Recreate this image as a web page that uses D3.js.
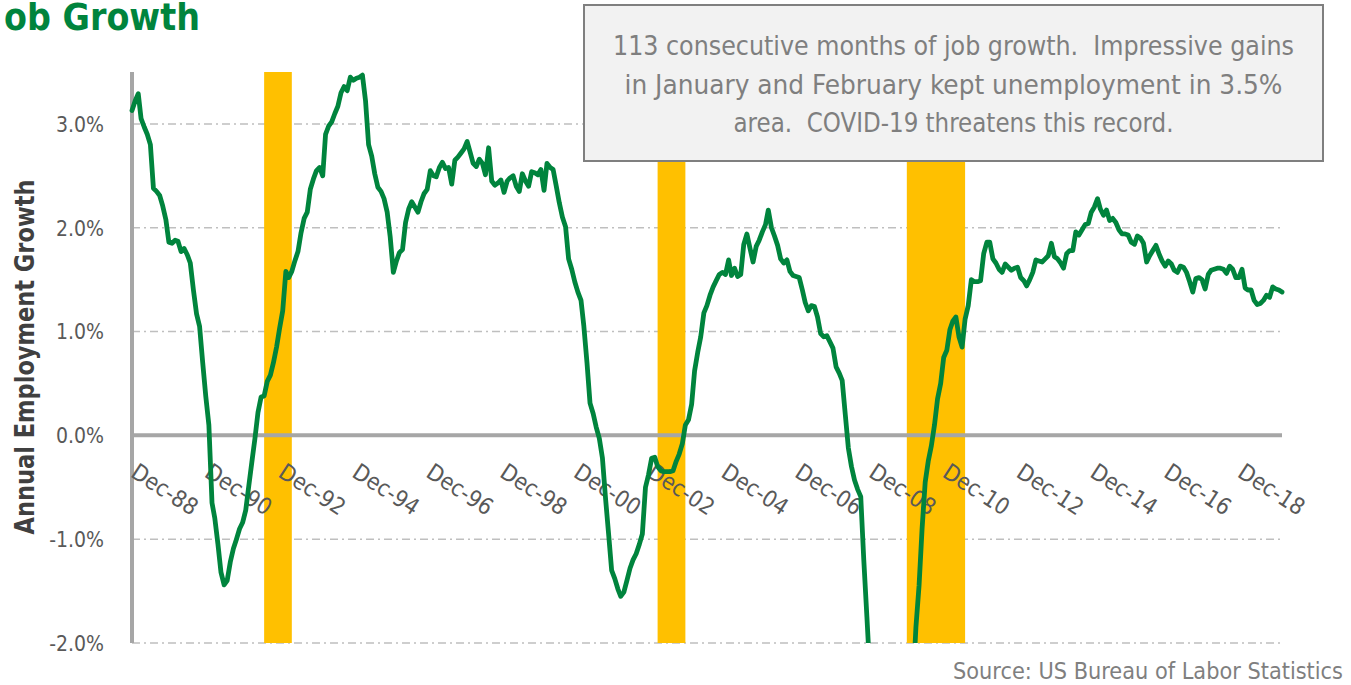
<!DOCTYPE html>
<html><head><meta charset="utf-8">
<script src="https://cdn.jsdelivr.net/npm/d3@7"></script>
<style>
html,body{margin:0;padding:0;background:#fff;}
svg{display:block;}
</style></head>
<body><svg id="chart" width="1351" height="685"></svg>
<script>
// ---------- data ----------
const firstMonth = "1988-12";
const lastMonth = "2020-02";
// Annual employment growth (%), monthly, Dec-1988 .. Feb-2020
const growth = [
 3.13,3.22,3.29,3.05,2.97,2.90,2.80,2.38,2.35,2.31,2.21,2.08,
 1.86,1.85,1.88,1.87,1.77,1.80,1.74,1.66,1.40,1.17,1.05,0.70,
 0.38,0.10,-0.65,-0.80,-1.05,-1.32,-1.44,-1.40,-1.22,-1.09,-1.00,-0.90,
 -0.84,-0.72,-0.48,-0.26,-0.03,0.22,0.37,0.38,0.52,0.58,0.70,0.85,
 1.03,1.20,1.58,1.52,1.58,1.68,1.77,1.95,2.09,2.15,2.37,2.47,
 2.55,2.58,2.50,2.90,2.98,3.02,3.10,3.17,3.30,3.36,3.32,3.45,
 3.42,3.44,3.45,3.47,3.22,2.80,2.69,2.52,2.39,2.35,2.28,2.15,
 1.91,1.57,1.68,1.76,1.79,2.05,2.18,2.25,2.20,2.15,2.25,2.33,
 2.37,2.55,2.50,2.49,2.58,2.63,2.57,2.58,2.42,2.65,2.68,2.72,
 2.76,2.83,2.72,2.62,2.59,2.66,2.62,2.51,2.77,2.45,2.41,2.43,
 2.46,2.34,2.45,2.48,2.50,2.40,2.35,2.52,2.45,2.40,2.54,2.53,
 2.51,2.56,2.36,2.62,2.58,2.56,2.40,2.24,2.10,2.01,1.70,1.60,
 1.48,1.38,1.30,1.05,0.70,0.31,0.21,0.08,-0.03,-0.22,-0.60,-0.95,
 -1.30,-1.38,-1.48,-1.55,-1.51,-1.40,-1.28,-1.20,-1.14,-1.05,-0.95,-0.50,
 -0.38,-0.22,-0.21,-0.30,-0.34,-0.35,-0.35,-0.35,-0.34,-0.25,-0.18,-0.08,
 0.10,0.15,0.30,0.62,0.80,0.95,1.18,1.25,1.35,1.43,1.49,1.55,
 1.57,1.55,1.69,1.54,1.61,1.53,1.55,1.84,1.94,1.80,1.67,1.82,
 1.88,1.96,2.03,2.17,2.00,1.92,1.83,1.70,1.66,1.69,1.58,1.54,
 1.53,1.52,1.40,1.28,1.20,1.25,1.24,1.14,0.98,0.95,0.96,0.90,
 0.84,0.66,0.60,0.53,0.20,-0.12,-0.30,-0.43,-0.52,-0.59,-1.20,-1.75,
 -2.30,-2.80,-3.30,-3.70,-4.10,-4.40,-4.60,-4.80,-4.90,-4.90,-4.70,-4.30,
 -3.70,-3.10,-2.40,-1.85,-1.45,-0.90,-0.45,-0.25,-0.10,0.10,0.35,0.50,
 0.75,0.82,1.02,1.10,1.14,0.95,0.85,1.12,1.25,1.50,1.48,1.48,
 1.49,1.75,1.86,1.86,1.70,1.66,1.60,1.57,1.65,1.62,1.59,1.61,
 1.62,1.52,1.49,1.44,1.50,1.57,1.69,1.68,1.67,1.70,1.73,1.85,
 1.72,1.70,1.66,1.61,1.75,1.78,1.78,1.96,1.93,1.98,2.03,2.04,
 2.15,2.20,2.28,2.18,2.12,2.17,2.07,2.09,2.05,1.98,1.94,1.94,
 1.93,1.86,1.84,1.92,1.90,1.85,1.67,1.73,1.78,1.83,1.75,1.68,
 1.63,1.68,1.65,1.59,1.57,1.63,1.62,1.57,1.48,1.38,1.51,1.52,
 1.50,1.41,1.55,1.59,1.60,1.61,1.61,1.60,1.56,1.63,1.60,1.52,
 1.52,1.60,1.42,1.40,1.40,1.30,1.26,1.27,1.30,1.35,1.33,1.43,
 1.41,1.40,1.38
];
const yTicks = [-2, -1, 0, 1, 2, 3];
const yDomain = [-2, 3.5];
const xTickLabels = ["Dec-88","Dec-90","Dec-92","Dec-94","Dec-96","Dec-98","Dec-00","Dec-02",
                     "Dec-04","Dec-06","Dec-08","Dec-10","Dec-12","Dec-14","Dec-16","Dec-18"];
const shadeStart = ["1992-07","2003-03","2009-12"];
const shadeEnd   = ["1993-04","2003-12","2011-07"];
const titleText = "Job Growth";
const yAxisTitle = "Annual Employment Growth";
const noteLines = [
  "113 consecutive months of job growth.  Impressive gains",
  "in January and February kept unemployment in 3.5%",
  "area.  COVID-19 threatens this record."
];
const sourceText = "Source: US Bureau of Labor Statistics";

// ---------- layout ----------
const W = 1351, H = 685;
const plot = {left: 132, right: 1282, top: 72, bottom: 643};
const FONT = "'Liberation Sans Narrow','DejaVu Sans Condensed','Roboto',sans-serif";
const GREEN = "#00843D", AXIS = "#A6A6A6", GRID = "#BFBFBF", BAND = "#FFC000";

const parseMonth = d3.timeParse("%Y-%m");
const parseTick = d3.timeParse("%b-%y");
const months = d3.timeMonth.range(parseMonth(firstMonth), d3.timeMonth.offset(parseMonth(lastMonth), 1));
const series = months.map((d, i) => ({date: d, value: growth[i]}));

const x = d3.scaleTime().domain([parseMonth(firstMonth), parseMonth(lastMonth)]).range([plot.left, plot.right]);
const y = d3.scaleLinear().domain(yDomain).range([plot.bottom, plot.top]);

const svg = d3.select("#chart");
svg.append("rect").attr("width", W).attr("height", H).attr("fill", "#fff");

const defs = svg.append("defs");
defs.append("clipPath").attr("id", "clip")
  .append("rect").attr("x", plot.left - 4).attr("y", plot.top).attr("width", plot.right - plot.left + 8).attr("height", plot.bottom - plot.top);
defs.append("clipPath").attr("id", "titleclip")
  .append("rect").attr("x", 3).attr("y", 0).attr("width", 400).attr("height", 50);

// gridlines (dash-dot)
svg.append("g").selectAll("line").data(yTicks.filter(t => t !== 0)).join("line")
  .attr("x1", plot.left).attr("x2", plot.right)
  .attr("y1", d => y(d)).attr("y2", d => y(d))
  .attr("stroke", GRID).attr("stroke-width", 1.5).attr("stroke-dasharray", "8,4,2,4");

// shaded periods
svg.append("g").selectAll("rect").data(shadeStart.map((s, i) => [parseMonth(s), parseMonth(shadeEnd[i])])).join("rect")
  .attr("x", d => x(d[0])).attr("width", d => x(d[1]) - x(d[0]))
  .attr("y", plot.top).attr("height", plot.bottom - plot.top)
  .attr("fill", BAND);

// y axis line
svg.append("line").attr("x1", plot.left).attr("x2", plot.left).attr("y1", plot.top).attr("y2", plot.bottom)
  .attr("stroke", AXIS).attr("stroke-width", 4);
// zero line
svg.append("line").attr("x1", plot.left).attr("x2", plot.right).attr("y1", y(0)).attr("y2", y(0))
  .attr("stroke", AXIS).attr("stroke-width", 4);

// y tick labels
const yAxis = svg.append("g").attr("transform", "translate(104,0)")
  .call(d3.axisLeft(y).tickValues(yTicks).tickSize(0).tickPadding(0).tickFormat(d => d.toFixed(1) + "%"));
yAxis.select(".domain").remove();
yAxis.selectAll("text").attr("font-family", FONT).attr("font-size", 21).attr("fill", "#595959")
  .attr("dy", "0.35em");

// x tick labels (rotated)
const xAxis = svg.append("g").attr("transform", "translate(0,476)")
  .call(d3.axisBottom(x).tickValues(xTickLabels.map(parseTick)).tickSize(0).tickPadding(0).tickFormat(d3.timeFormat("%b-%y")));
xAxis.select(".domain").remove();
xAxis.selectAll("text").attr("font-family", FONT).attr("font-size", 23).attr("fill", "#595959")
  .attr("text-anchor", "start").attr("x", 0).attr("y", 0).attr("dy", 0)
  .attr("transform", "translate(-3,0) rotate(33)");

// line
svg.append("path").datum(series)
  .attr("clip-path", "url(#clip)")
  .attr("fill", "none").attr("stroke", GREEN).attr("stroke-width", 4.8)
  .attr("stroke-linejoin", "round").attr("stroke-linecap", "round")
  .attr("d", d3.line().x(d => x(d.date)).y(d => y(d.value)));

// annotation box
svg.append("rect").attr("x", 584).attr("y", 5).attr("width", 739).attr("height", 156)
  .attr("fill", "#F2F2F2").attr("stroke", "#7F7F7F").attr("stroke-width", 2);
const noteWidths = [681, 658, 440];
svg.append("g").selectAll("text").data(noteLines).join("text")
  .attr("x", 953.5).attr("y", (d, i) => 55 + i * 38.5)
  .attr("text-anchor", "middle").attr("font-family", FONT).attr("font-size", 27).attr("fill", "#7F7F7F")
  .attr("textLength", (d, i) => noteWidths[i]).attr("lengthAdjust", "spacingAndGlyphs")
  .style("white-space", "pre")
  .text(d => d);

// title (its first letter falls off the left edge, as in the original)
const title = svg.append("text").attr("x", 0).attr("y", 30).attr("text-anchor", "start")
  .attr("clip-path", "url(#titleclip)")
  .attr("font-family", FONT).attr("font-weight", "bold").attr("font-size", 40).attr("fill", GREEN)
  .text(titleText);
{
  const n = title.node();
  const rest = n.getSubStringLength(1, titleText.length - 1);
  const fs = 40 * 196 / rest;
  title.attr("font-size", fs);
  const p = n.getStartPositionOfChar(1).x;
  title.attr("x", 4 - p);
}

// y-axis title
svg.append("text").attr("transform", "translate(34,357) rotate(-90)").attr("text-anchor", "middle")
  .attr("font-family", FONT).attr("font-weight", "bold").attr("font-size", 27).attr("fill", "#404040")
  .attr("textLength", 355).attr("lengthAdjust", "spacingAndGlyphs")
  .text(yAxisTitle);

// source
svg.append("text").attr("x", 1343).attr("y", 679).attr("text-anchor", "end")
  .attr("font-family", FONT).attr("font-size", 23).attr("fill", "#7F7F7F")
  .attr("textLength", 390).attr("lengthAdjust", "spacingAndGlyphs")
  .text(sourceText);
</script>
</body></html>
